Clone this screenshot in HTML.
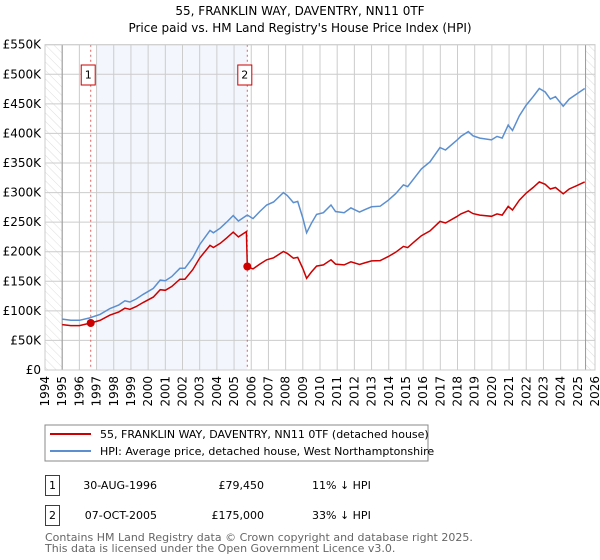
<!DOCTYPE html>
<html><head><meta charset="utf-8"><style>
body{margin:0;background:#fff;}
svg{display:block;font-family:"DejaVu Sans","Liberation Sans",sans-serif;}
</style></head><body>
<svg id="chart" width="600" height="560">
<defs><pattern id="hatch" width="6" height="6" patternUnits="userSpaceOnUse" patternTransform="rotate(-45)"><line x1="0" y1="0" x2="0" y2="6" stroke="#ddd" stroke-width="1"/></pattern></defs>
<text x="300" y="15" text-anchor="middle" font-size="12">55, FRANKLIN WAY, DAVENTRY, NN11 0TF</text>
<text x="300" y="32" text-anchor="middle" font-size="12">Price paid vs. HM Land Registry's House Price Index (HPI)</text>
<g id="plot"></g>
<rect x="45" y="425" width="383" height="36" fill="none" stroke="#888"/>
<line x1="50" y1="434" x2="91" y2="434" stroke="#cc0000" stroke-width="2"/>
<text x="100" y="438" font-size="11">55, FRANKLIN WAY, DAVENTRY, NN11 0TF (detached house)</text>
<line x1="50" y1="451" x2="91" y2="451" stroke="#5b8fd0" stroke-width="2"/>
<text x="100" y="455" font-size="11">HPI: Average price, detached house, West Northamptonshire</text>
<g font-size="11">
<rect x="45.5" y="475.5" width="14" height="20" fill="#fff" stroke="#cc0000"/>
<text x="52.5" y="489" text-anchor="middle">1</text>
<text x="157" y="489" text-anchor="end">30-AUG-1996</text>
<text x="264" y="489" text-anchor="end">£79,450</text>
<text x="312" y="489">11% ↓ HPI</text>
<rect x="45.5" y="505.5" width="14" height="20" fill="#fff" stroke="#cc0000"/>
<text x="52.5" y="519" text-anchor="middle">2</text>
<text x="157" y="519" text-anchor="end">07-OCT-2005</text>
<text x="264" y="519" text-anchor="end">£175,000</text>
<text x="312" y="519">33% ↓ HPI</text>
</g>
<text x="45" y="541" font-size="11" fill="#666">Contains HM Land Registry data © Crown copyright and database right 2025.</text>
<text x="45" y="552" font-size="11" fill="#666">This data is licensed under the Open Government Licence v3.0.</text>
</svg>
<script>
const hpiYears=[1995.0,1995.5,1996.0,1996.58,1997.2,1997.78,1998.3,1998.65,1998.94,1999.3,1999.72,2000.3,2000.7,2001.0,2001.37,2001.85,2002.14,2002.6,2003.0,2003.6,2003.8,2004.2,2004.57,2004.95,2005.25,2005.77,2006.1,2006.5,2006.9,2007.3,2007.87,2008.1,2008.45,2008.7,2009.0,2009.22,2009.5,2009.8,2010.2,2010.64,2010.9,2011.4,2011.8,2012.3,2012.6,2013.0,2013.5,2013.97,2014.4,2014.85,2015.1,2015.5,2015.9,2016.4,2016.98,2017.3,2017.95,2018.2,2018.63,2018.9,2019.3,2019.98,2020.3,2020.6,2020.95,2021.2,2021.6,2022.0,2022.4,2022.76,2023.1,2023.4,2023.7,2024.15,2024.5,2024.9,2025.4];
const hpiValues=[86,84,84,88,94,104,110,117,115,120,128,138,152,151,158,172,172,190,212,236,232,240,250,261,252,262,256,268,279,284,300,295,283,285,257,232,248,263,266,279,268,266,274,267,271,276,277,287,298,313,310,325,340,352,376,372,388,395,403,396,392,389,395,392,414,405,430,448,462,476,470,458,462,446,458,466,476];
const priceYears=[1995.0,1995.5,1996.0,1996.66,1997.2,1997.78,1998.3,1998.65,1998.94,1999.3,1999.72,2000.3,2000.7,2001.0,2001.37,2001.85,2002.14,2002.6,2003.0,2003.6,2003.8,2004.2,2004.57,2004.95,2005.25,2005.72,2005.77,2006.1,2006.5,2006.9,2007.3,2007.87,2008.1,2008.45,2008.7,2009.0,2009.22,2009.5,2009.8,2010.2,2010.64,2010.9,2011.4,2011.8,2012.3,2012.6,2013.0,2013.5,2013.97,2014.4,2014.85,2015.1,2015.5,2015.9,2016.4,2016.98,2017.3,2017.95,2018.2,2018.63,2018.9,2019.3,2019.98,2020.3,2020.6,2020.95,2021.2,2021.6,2022.0,2022.4,2022.76,2023.1,2023.4,2023.7,2024.15,2024.5,2024.9,2025.4];
const priceValues=[76.8,75,75,79.45,83.9,92.9,98.2,104.5,102.7,107.2,114.3,123.2,135.7,134.8,141.1,153.6,153.6,169.7,189.3,210.7,207.2,214.3,223.3,233.1,225,234,175,171,179,186.4,189.7,200.4,197.1,189,190.4,171.7,155,165.7,175.7,177.7,186.4,179,177.7,183,178.4,181,184.4,185,191.7,199,209,207,217.1,227.1,235.1,251.2,248.5,259.2,263.9,269.2,264.5,261.9,259.9,263.9,261.9,276.6,270.5,287.2,299.3,308.6,318,314,306,308.6,297.9,306,311.3,318];
const saleYears=[1996.66,2005.77];
const saleValues=[79.45,175];
const saleLabels=["1","2"];
const yTicks=[0,50,100,150,200,250,300,350,400,450,500,550];
const yTickLabels=["£0","£50K","£100K","£150K","£200K","£250K","£300K","£350K","£400K","£450K","£500K","£550K"];
const xTicks=[1994,1995,1996,1997,1998,1999,2000,2001,2002,2003,2004,2005,2006,2007,2008,2009,2010,2011,2012,2013,2014,2015,2016,2017,2018,2019,2020,2021,2022,2023,2024,2025,2026];

const L=45,R=595,T=44.7,B=370,X0=1994,X1=2026,Y1=550;
const xs=v=>L+(v-X0)/(X1-X0)*(R-L);
const ys=v=>B-v/Y1*(B-T);
const NS="http://www.w3.org/2000/svg";
const g=document.getElementById('plot');
function mk(tag,attrs,parent){const e=document.createElementNS(NS,tag);for(const k in attrs)e.setAttribute(k,attrs[k]);(parent||g).appendChild(e);return e;}

let e=mk('rect',{x:xs(1997),y:T,width:xs(2005.77)-xs(1997),height:B-T,fill:'#eef3fc',opacity:0.7});


e=mk('rect',{x:L,y:T,width:xs(1995)-L,height:B-T,fill:'url(#hatch)'});


e=mk('rect',{x:xs(2025.45),y:T,width:R-xs(2025.45),height:B-T,fill:'url(#hatch)'});



yTicks.forEach((t,i)=>{
  let l=mk('line',{x1:L,x2:R,y1:ys(t),y2:ys(t),stroke:'#ccc','stroke-width':1});
  
  
  let tx=mk('text',{x:L-4,y:ys(t)+4,'text-anchor':'end','font-size':12});
  tx.textContent=yTickLabels[i];
  
  
});
xTicks.forEach(t=>{
  let l=mk('line',{x1:xs(t),x2:xs(t),y1:T,y2:B,stroke:'#ccc','stroke-width':1});
  
  
  let tx=mk('text',{x:0,y:0,'text-anchor':'end','font-size':12,transform:`translate(${xs(t)+4},${B+6}) rotate(-90)`});
  tx.textContent=t;
  
  
});
e=mk('line',{x1:xs(1995),x2:xs(1995),y1:T,y2:B,stroke:'#999'});


e=mk('line',{x1:xs(2025.45),x2:xs(2025.45),y1:T,y2:B,stroke:'#999'});



saleYears.forEach((y,i)=>{
  let l=mk('line',{x1:xs(y),x2:xs(y),y1:T,y2:B,stroke:'#e06060','stroke-dasharray':'2,3','stroke-width':1});
  
  
});

function path(xv,yv){return xv.map((x,i)=>(i?'L':'M')+xs(x).toFixed(1)+','+ys(yv[i]).toFixed(1)).join('');}
e=mk('path',{d:path(hpiYears,hpiValues),fill:'none',stroke:'#5b8fd0','stroke-width':1.5});


e=mk('path',{d:path(priceYears,priceValues),fill:'none',stroke:'#cc0000','stroke-width':1.5});



saleYears.forEach((y,i)=>{
  let c=mk('circle',{cx:xs(y),cy:ys(saleValues[i]),r:4,fill:'#cc0000'});
  
  
  let bx=xs(y)+4.5-14;
  let r=mk('rect',{x:bx,y:65,width:14,height:20,fill:'#fff',stroke:'#cc0000'});
  
  
  let t=mk('text',{x:bx+7,y:78.5,'text-anchor':'middle','font-size':11});
  t.textContent=saleLabels[i];
  
  
});
e=mk('rect',{x:L,y:T,width:R-L,height:B-T,fill:'none',stroke:'#ccc'});


</script>
</body></html>
